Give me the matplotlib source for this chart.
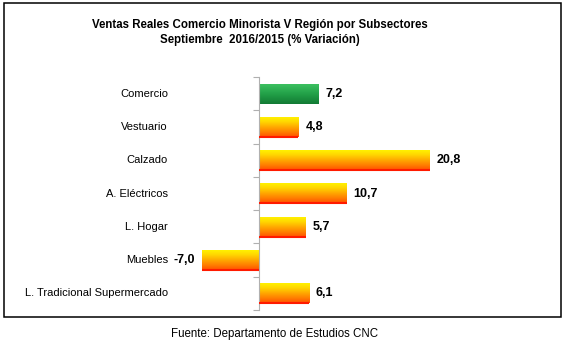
import matplotlib
matplotlib.use("Agg")
import matplotlib.pyplot as plt
import numpy as np
from matplotlib.colors import LinearSegmentedColormap
from matplotlib.patches import Rectangle

plt.rcParams['font.family'] = ['Liberation Sans', 'DejaVu Sans']

categories = ["Comercio", "Vestuario", "Calzado", "A. Eléctricos", "L. Hogar",
              "Muebles", "L. Tradicional Supermercado"]
values = [7.2, 4.8, 20.8, 10.7, 5.7, -7.0, 6.1]
value_labels = ["7,2", "4,8", "20,8", "10,7", "5,7", "-7,0", "6,1"]
title_lines = ["Ventas Reales Comercio Minorista V Región por Subsectores",
               "Septiembre  2016/2015 (% Variación)"]
source = "Fuente: Departamento de Estudios CNC"

W, H = 564, 363
fig = plt.figure(figsize=(W / 100, H / 100), dpi=100)

def fx(px):
    return px / W

def fy(py):
    return 1 - py / H

# outer border
fig.patches.append(Rectangle((fx(3.5), fy(317)), fx(557), 314 / H, transform=fig.transFigure,
                             fill=False, edgecolor="black", linewidth=1.1))

# axes: zero line at x=259 px, 8.2 px per unit
ax_left, ax_right = 190, 500
ax_top, ax_bot = 77, 310
ax = fig.add_axes([fx(ax_left), fy(ax_bot), fx(ax_right - ax_left), (ax_bot - ax_top) / H])
ppu = 8.2
n = len(categories)

orange_cmap = LinearSegmentedColormap.from_list(
    "og", ["#fff200", "#ffd400", "#ffa800", "#ff7e00", "#ff5000"])
green_cmap = LinearSegmentedColormap.from_list(
    "gr", ["#3cc060", "#22a048", "#127a34"])

ypos = np.arange(n)
bars = ax.barh(ypos, values, height=0.6, color="none", edgecolor="none")
grad = np.linspace(0, 1, 256).reshape(-1, 1)
for i, b in enumerate(bars):
    x0, y0, w, h = b.get_x(), b.get_y(), b.get_width(), b.get_height()
    cmap = green_cmap if i == 0 else orange_cmap
    ax.imshow(grad, cmap=cmap, aspect="auto",
              extent=(min(x0, x0 + w), max(x0, x0 + w), y0 + h, y0),
              origin="upper", zorder=2, interpolation="bilinear")
    if i != 0:
        ax.plot([x0, x0 + w], [y0 + h, y0 + h], color="#ff1a00", lw=1.5,
                zorder=3, solid_capstyle="butt")

ax.set_xlim(-(259 - ax_left) / ppu, (ax_right - 259) / ppu)
ax.set_ylim(n - 0.5, -0.5)

for i, (v, lab) in enumerate(zip(values, value_labels)):
    if v >= 0:
        ax.text(v + 0.85, i, lab, ha="left", va="center", fontsize=9, fontweight="bold")
    else:
        ax.text(v - 0.8, i, lab, ha="right", va="center", fontsize=9, fontweight="bold")

# category labels, right aligned at x=168 px
for i, c in enumerate(categories):
    ax.annotate(c, xy=(0, i), xycoords=("figure fraction", "data"),
                xytext=(fx(168), 0), textcoords=("figure fraction", "offset points"),
                ha="right", va="center", fontsize=8)

for s in ["top", "right", "bottom"]:
    ax.spines[s].set_visible(False)
ax.spines["left"].set_position(("data", 0))
ax.spines["left"].set_color("#b0b0b0")
ax.spines["left"].set_linewidth(0.8)
ax.set_xticks([])
ax.set_yticks(np.arange(-0.5, n, 1.0))
ax.set_yticklabels([])
ax.tick_params(axis="y", direction="out", length=4, color="#b0b0b0", width=0.8)
ax.patch.set_alpha(0)

fig.text(fx(259.5), fy(25), title_lines[0], ha="center", va="center",
         fontsize=8.3, fontweight="bold")
fig.text(fx(259.5), fy(40), title_lines[1], ha="center", va="center",
         fontsize=8.3, fontweight="bold")
fig.text(fx(274.5), fy(334), source, ha="center", va="center", fontsize=8.3)

fig.savefig("out.png", dpi=100)
